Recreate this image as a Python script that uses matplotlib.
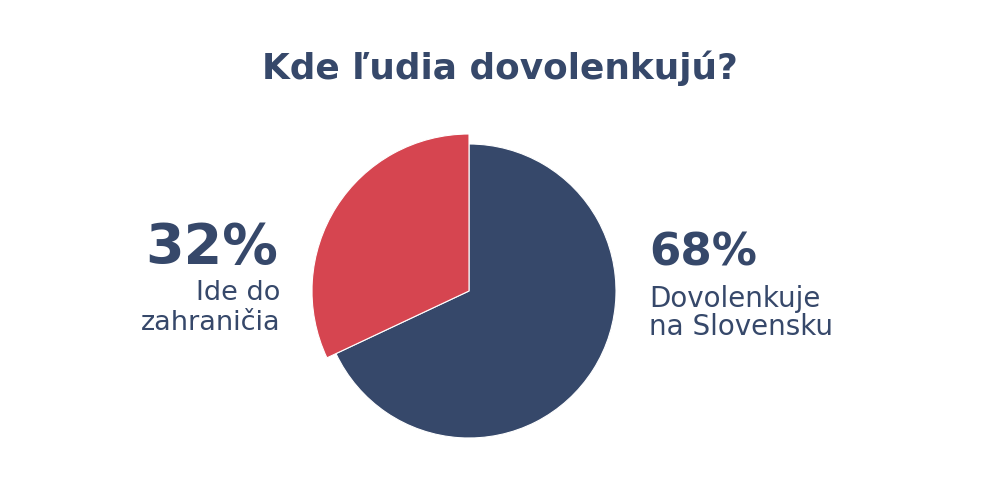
import matplotlib
matplotlib.use("Agg")
import matplotlib.pyplot as plt

# Data
categories = ["Dovolenkuje na Slovensku", "Ide do zahraničia"]
values = [68, 32]
pct_labels = ["68%", "32%"]
desc_lines_right = ["Dovolenkuje", "na Slovensku"]
desc_lines_left = ["Ide do", "zahraničia"]
title = "Kde ľudia dovolenkujú?"

NAVY = "#36486a"
RED = "#d64550"
W, H = 1000, 490

plt.rcParams['font.family'] = ['DejaVu Sans']

fig = plt.figure(figsize=(W / 100, H / 100), dpi=100)
ax = fig.add_axes([0, 0, 1, 1])

cx, cy, r = 469, H - 291, 147
wedges, _ = ax.pie(values, colors=[NAVY, RED], startangle=90, counterclock=False,
                   center=(cx, cy), radius=r,
                   wedgeprops=dict(edgecolor="white", linewidth=0.8))
# highlighted slice drawn with a larger radius
wedges[1].set_radius(r * 157 / 147)

ax.set_xlim(0, W)
ax.set_ylim(0, H)
ax.set_aspect('equal')
ax.axis('off')

ax.text(500, H - 79, title, ha='center', va='baseline', fontsize=25.8,
        fontweight='bold', color=NAVY)

# left label
ax.text(278, H - 263, pct_labels[1], ha='right', va='baseline', fontsize=40,
        fontweight='bold', color=NAVY)
ax.text(280, H - 300, desc_lines_left[0], ha='right', va='baseline', fontsize=19.5,
        color=NAVY)
ax.text(280, H - 330, desc_lines_left[1], ha='right', va='baseline', fontsize=19.5,
        color=NAVY)

# right label
ax.text(649, H - 265, pct_labels[0], ha='left', va='baseline', fontsize=32.5,
        fontweight='bold', color=NAVY)
ax.text(649, H - 307, desc_lines_right[0], ha='left', va='baseline', fontsize=20,
        color=NAVY)
ax.text(649, H - 335, desc_lines_right[1], ha='left', va='baseline', fontsize=20,
        color=NAVY)

fig.savefig("out.png", dpi=100, facecolor="white")
